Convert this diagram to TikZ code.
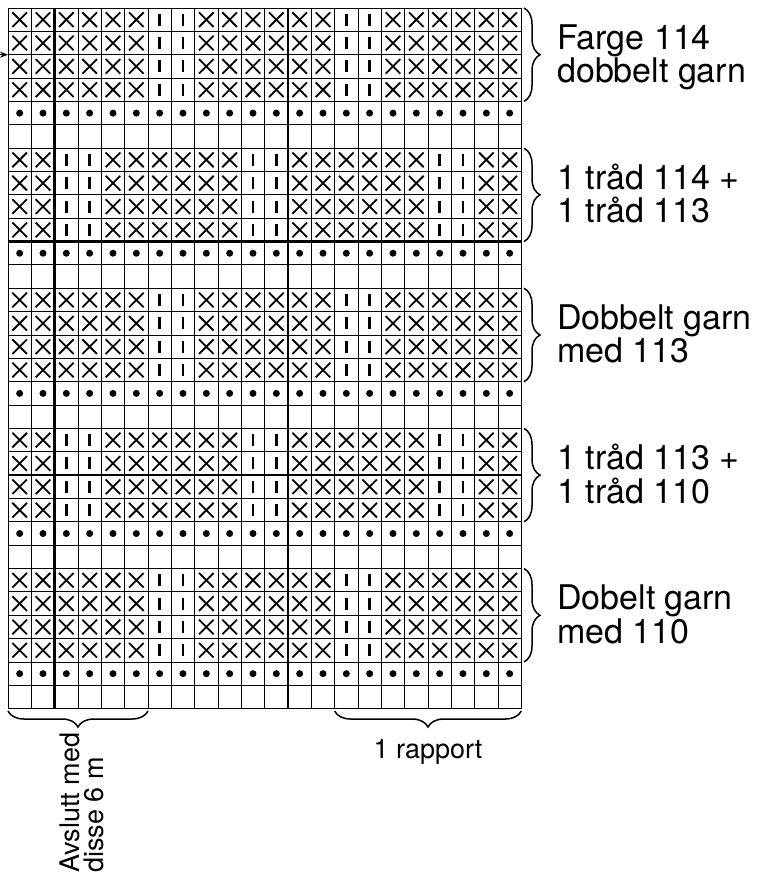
\documentclass[tikz,border=0pt]{standalone}
\usepackage{fontspec}
\setmainfont{TeX Gyre Heros}
\usetikzlibrary{decorations.pathreplacing,arrows.meta}
\begin{document}
\begin{tikzpicture}[x=1pt,y=-1pt,
  gridline/.style={line width=0.9pt},
  thickrule/.style={line width=2.4pt},
  xmark/.style={line width=1.8pt},
  imark/.style={line width=2.5pt},
  bracestyle/.style={decorate,decoration={brace,amplitude=16pt},line width=1.5pt},
  lbl/.style={font=\fontsize{34}{33.5}\selectfont, align=left, anchor=base west, inner sep=0pt},
  slbl/.style={font=\fontsize{27}{23.5}\selectfont, inner sep=0pt}]
\useasboundingbox (0,0) rectangle (765,879);
\def\cw{23.333}
\def\ch{23.356}
% grid lines
\foreach \c in {0,...,22} \draw[gridline] ({8+\c*\cw},8) -- ({8+\c*\cw},708.7);
\foreach \r in {0,...,30} \draw[gridline] (8,{8+\r*\ch}) -- (521.3,{8+\r*\ch});
% symbols
\foreach \r in {1,...,30}{
  \pgfmathtruncatemacro\m{mod(\r-1,6)}
  \pgfmathtruncatemacro\s{mod(floor((\r-1)/6),2)}
  \foreach \c in {1,...,22}{
    \pgfmathsetmacro\cx{8+(\c-0.5)*\cw}
    \pgfmathsetmacro\cy{8+(\r-0.5)*\ch}
    \pgfmathtruncatemacro\k{mod(\c,8)}
    \pgfmathtruncatemacro\isI{((\s==0)&&((\k==7)||(\k==0)))||((\s==1)&&((\k==3)||(\k==4)))}
    \ifnum\m<4
      \ifnum\isI=1
        \draw[imark] (\cx,{\cy-6}) -- (\cx,{\cy+6});
      \else
        \draw[xmark] ({\cx-7.3},{\cy-7.3}) -- ({\cx+7.3},{\cy+7.3}) ({\cx-7.3},{\cy+7.3}) -- ({\cx+7.3},{\cy-7.3});
      \fi
    \else
      \ifnum\m=4
        \fill (\cx,\cy) circle (3.5);
      \fi
    \fi
  }
}
% thick rules
\draw[thickrule] ({8+2*\cw},8) -- ({8+2*\cw},708.7);
\draw[thickrule] ({8+12*\cw},8) -- ({8+12*\cw},708.7);
\draw[thickrule] (8,{8+10*\ch}) -- (521.3,{8+10*\ch});
\draw[thickrule] (8,{8+20*\ch}) -- (521.3,{8+20*\ch});
% left arrow
\coordinate (arrS) at (-6,54.7);
\coordinate (arrE) at (8,54.7);
\draw[line width=1pt,-{Stealth[length=8pt,width=6pt]}] (arrS) -- (arrE);
% right braces and labels (base anchor = last line)
\foreach \s/\txt in {0/{Farge 114\\dobbelt garn},1/{1 tråd 114 +\\1 tråd 113},2/{Dobbelt garn\\med 113},3/{1 tråd 113 +\\1 tråd 110},4/{Dobelt garn\\med 110}}{
  \coordinate (bt\s) at (524,{8+6*\s*\ch});
  \coordinate (bb\s) at (524,{8+(6*\s+4)*\ch});
  \draw[bracestyle] (bt\s) -- (bb\s);
  \node[lbl] (lab\s) at (557,{8+(6*\s+2)*\ch+28}) {\txt};
}
% bottom braces
\coordinate (b1l) at (8,711);
\coordinate (b1r) at ({8+6*\cw},711);
\draw[bracestyle] (b1r) -- (b1l);
\coordinate (b2l) at ({8+14*\cw},711);
\coordinate (b2r) at (521.3,711);
\draw[bracestyle] (b2r) -- (b2l);
\node[slbl, anchor=base] (rapport) at (428,758) {1 rapport};
\node[slbl, rotate=90, anchor=base west, align=left] (avslutt) at (103,873) {Avslutt med\\disse 6 m};
\end{tikzpicture}
\end{document}
